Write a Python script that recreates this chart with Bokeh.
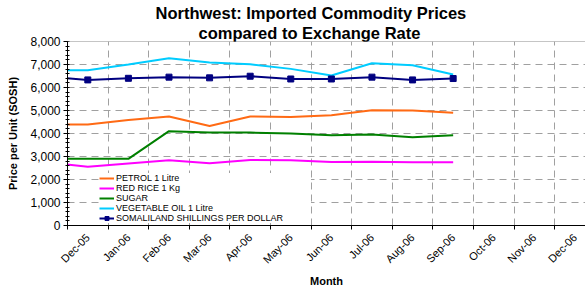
import math
from bokeh.plotting import figure
from bokeh.models import (Range1d, FixedTicker, NumeralTickFormatter, Legend,
                          LegendItem, Title, Span)
from bokeh.embed import file_html
from bokeh.resources import INLINE

# ---- data (Nov-05 value lies just left of the visible range) ----
data_months = ["Nov-05", "Dec-05", "Jan-06", "Feb-06", "Mar-06", "Apr-06",
               "May-06", "Jun-06", "Jul-06", "Aug-06", "Sep-06"]
axis_months = ["Dec-05", "Jan-06", "Feb-06", "Mar-06", "Apr-06", "May-06",
               "Jun-06", "Jul-06", "Aug-06", "Sep-06", "Oct-06", "Nov-06",
               "Dec-06"]
petrol = [4390, 4390, 4590, 4740, 4330, 4740, 4720, 4795, 5010, 5000, 4900]
red_rice = [2750, 2550, 2695, 2840, 2710, 2850, 2840, 2765, 2770, 2750, 2750]
sugar = [2900, 2900, 2900, 4100, 4040, 4040, 4000, 3925, 3955, 3840, 3925]
veg_oil = [6750, 6750, 7000, 7270, 7090, 7010, 6810, 6520, 7055, 6970, 6565]
shillings = [6470, 6330, 6400, 6450, 6420, 6490, 6370, 6370, 6450, 6330, 6390]
y_ticks = [0, 1000, 2000, 3000, 4000, 5000, 6000, 7000, 8000]

FONT = "Liberation Sans"

# category index: Dec-05 centred at 0.5
xs = [i - 0.5 for i in range(len(data_months))]
centers = [i + 0.5 for i in range(len(axis_months))]
bounds = list(range(len(axis_months) + 1))

p = figure(width=585, height=291, output_backend="svg", toolbar_location=None,
           x_range=Range1d(0, 12.76), y_range=Range1d(0, 8000),
           min_border_left=67, min_border_right=0, min_border_top=41,
           min_border_bottom=66)
p.outline_line_color = None
p.background_fill_color = "white"

# grids
p.xgrid.ticker = FixedTicker(ticks=bounds[1:-1])
p.ygrid.ticker = FixedTicker(ticks=y_ticks[1:-1])
for g in (p.xgrid, p.ygrid):
    g.grid_line_color = "#a0a0a0"
    g.grid_line_dash = "7 5"
    g.grid_line_width = 1
p.add_layout(Span(location=8000, dimension="width", line_color="#8c8c8c",
                  line_width=1))

# y axis
ya = p.yaxis[0]
ya.ticker = FixedTicker(ticks=y_ticks, minor_ticks=list(range(0, 8001, 200)))
ya.formatter = NumeralTickFormatter(format="0,0")
ya.major_tick_out = 4
ya.major_tick_in = 0
ya.minor_tick_out = 2
ya.minor_tick_in = 2
ya.axis_line_color = "black"
ya.major_tick_line_color = "black"
ya.minor_tick_line_color = "black"
ya.major_label_text_font = FONT
ya.major_label_text_font_size = "12px"
ya.major_label_text_color = "black"
ya.major_label_standoff = 3
ya.axis_label = "Price per Unit (SOSH)"
ya.axis_label_text_font = FONT
ya.axis_label_text_font_size = "11px"
ya.axis_label_text_font_style = "bold"
ya.axis_label_text_color = "black"
ya.axis_label_standoff = 8

# x axis
xa = p.xaxis[0]
xa.ticker = FixedTicker(ticks=centers, minor_ticks=bounds)
xa.major_label_overrides = {c: m for c, m in zip(centers, axis_months)}
xa.major_tick_out = 0
xa.major_tick_in = 0
xa.minor_tick_out = 4
xa.minor_tick_in = 0
xa.axis_line_color = "black"
xa.minor_tick_line_color = "black"
xa.major_label_orientation = math.pi / 4
xa.major_label_text_font = FONT
xa.major_label_text_font_size = "11px"
xa.major_label_text_color = "black"
xa.major_label_standoff = 6
xa.axis_label = "Month"
xa.axis_label_text_font = FONT
xa.axis_label_text_font_size = "11px"
xa.axis_label_text_font_style = "bold"
xa.axis_label_text_color = "black"
xa.axis_label_standoff = 2

# series
r_pet = p.line(xs, petrol, line_color="#FF6A14", line_width=2)
r_rice = p.line(xs, red_rice, line_color="#FF00FF", line_width=2)
r_sug = p.line(xs, sugar, line_color="#008000", line_width=2)
r_oil = p.line(xs, veg_oil, line_color="#00CCFF", line_width=2)
r_sh = p.line(xs, shillings, line_color="#000080", line_width=2)
r_shm = p.scatter(xs, shillings, marker="square", size=6,
                  fill_color="#000080", line_color="#000080")

legend = Legend(items=[
    LegendItem(label="PETROL 1 Litre", renderers=[r_pet]),
    LegendItem(label="RED RICE 1 Kg", renderers=[r_rice]),
    LegendItem(label="SUGAR", renderers=[r_sug]),
    LegendItem(label="VEGETABLE OIL 1 Litre", renderers=[r_oil]),
    LegendItem(label="SOMALILAND SHILLINGS PER DOLLAR", renderers=[r_sh, r_shm]),
], location=(32, 2))
legend.label_text_font = FONT
legend.label_text_font_size = "9px"
legend.label_text_color = "black"
legend.glyph_width = 15
legend.glyph_height = 10
legend.label_height = 10
legend.label_width = 195
legend.spacing = 0
legend.padding = 3
legend.margin = 0
legend.label_standoff = 2
legend.border_line_color = None
legend.background_fill_alpha = 1.0
p.add_layout(legend)

# title (two lines, bold) - first added sits closest to the frame
for txt, off in (("compared to Exchange Rate", 131),
                 ("Northwest: Imported Commodity Prices", 88)):
    p.add_layout(Title(text=txt, align="left", offset=off, standoff=0,
                       text_font=FONT, text_font_size="16.5px",
                       text_font_style="bold", text_color="black"), "above")

open("out.html", "w").write(file_html(p, INLINE))
